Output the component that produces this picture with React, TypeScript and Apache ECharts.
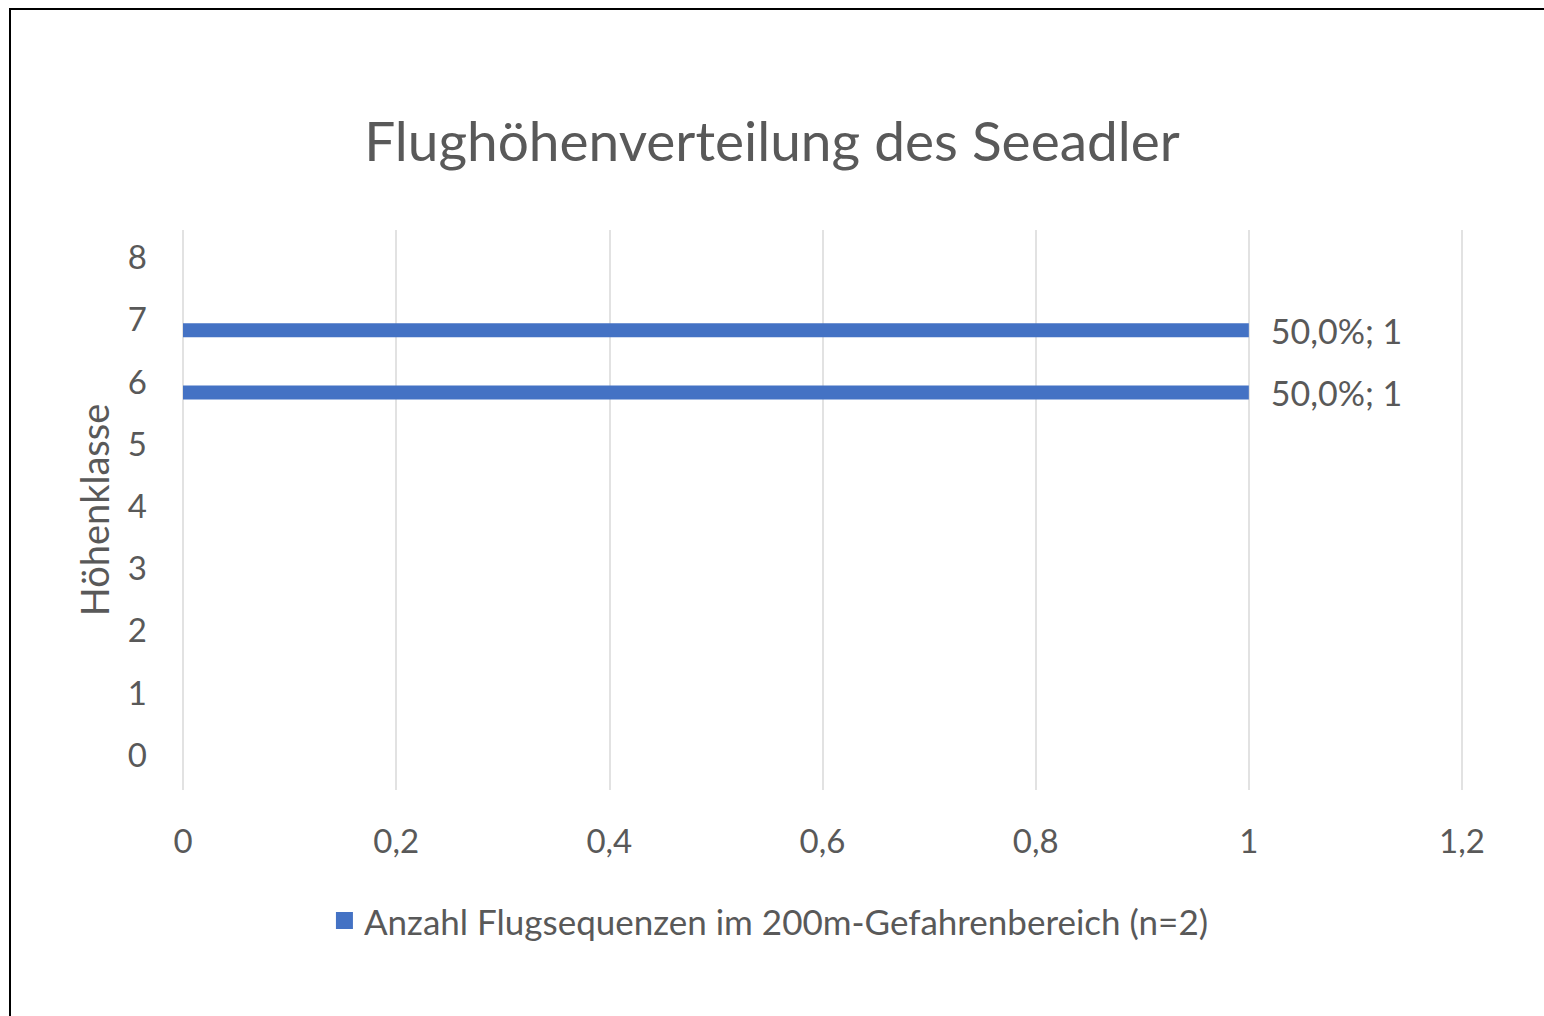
import React, { useEffect, useRef } from "react";
import * as echarts from "echarts";

const TITLE = "Flughöhenverteilung des Seeadler";
const SERIES_NAME = "Anzahl Flugsequenzen im 200m-Gefahrenbereich (n=2)";
const Y_AXIS_NAME = "Höhenklasse";
const categories = ["0", "1", "2", "3", "4", "5", "6", "7", "8"];
const counts = [null, null, null, null, null, null, 1, 1, null];
const xTicks = { min: 0, max: 1.2, interval: 0.2 };

const FONT = "Lato";
const GRAY = "#595959";
const BLUE = "#4472C4";

export default function App() {
  const ref = useRef<HTMLDivElement>(null);
  useEffect(() => {
    if (!ref.current) return;
    const chart = echarts.init(ref.current, undefined, { renderer: "svg" });
    const total = counts.reduce((a: number, b) => a + (b || 0), 0);
    chart.setOption({
      animation: false,
      backgroundColor: "#ffffff",
      title: {
        text: TITLE,
        left: "center",
        top: 107,
        textStyle: { fontFamily: FONT, fontSize: 55, fontWeight: "normal", color: GRAY },
      },
      legend: {
        data: [SERIES_NAME],
        left: "center",
        top: 898,
        icon: "rect",
        itemWidth: 17,
        itemHeight: 17,
        textStyle: { fontFamily: FONT, fontSize: 35, color: GRAY, padding: [0, 0, 0, 6] },
      },
      grid: { left: 183, right: 82, top: 230, bottom: 226, containLabel: false },
      xAxis: {
        type: "value",
        min: xTicks.min,
        max: xTicks.max,
        interval: xTicks.interval,
        axisLine: { show: false },
        axisTick: { show: false },
        splitLine: { show: true, lineStyle: { color: "#D9D9D9", width: 1.5 } },
        axisLabel: {
          margin: 33,
          fontFamily: FONT,
          fontSize: 33,
          color: GRAY,
          formatter: (v: number) => String(Math.round(v * 10) / 10).replace(".", ","),
        },
      },
      yAxis: {
        type: "category",
        data: categories,
        name: Y_AXIS_NAME,
        nameLocation: "middle",
        nameGap: 70,
        nameTextStyle: { fontFamily: FONT, fontSize: 38, color: GRAY },
        axisLine: { show: false },
        axisTick: { show: false },
        splitLine: { show: false },
        axisLabel: {
          margin: 36,
          fontFamily: FONT,
          fontSize: 33,
          color: GRAY,
          formatter: (v: string) => "{t|" + v + "}",
          rich: {
            t: { fontFamily: FONT, fontSize: 33, color: GRAY, padding: [0, 0, 10, 0] },
          },
        },
      },
      series: [
        {
          name: "_spacer",
          type: "bar",
          data: categories.map(() => null),
          barWidth: 14,
          barGap: "0%",
          silent: true,
        },
        {
          name: SERIES_NAME,
          type: "bar",
          data: counts,
          barWidth: 14,
          barGap: "0%",
          itemStyle: { color: BLUE },
          label: {
            show: true,
            position: "right",
            distance: 22,
            fontFamily: FONT,
            fontSize: 34,
            color: GRAY,
            formatter: (p: any) =>
              ((p.value / total) * 100).toFixed(1).replace(".", ",") + "%; " + p.value,
          },
        },
      ],
      graphic: [
        { type: "line", shape: { x1: 9, y1: 9, x2: 1544, y2: 9 }, style: { stroke: "#000", lineWidth: 2 } },
        { type: "line", shape: { x1: 10, y1: 8, x2: 10, y2: 1016 }, style: { stroke: "#000", lineWidth: 2 } },
      ],
    });
    return () => chart.dispose();
  }, []);
  return <div ref={ref} style={{ position: "absolute", left: 0, top: 0, width: 1544, height: 1016 }} />;
}
